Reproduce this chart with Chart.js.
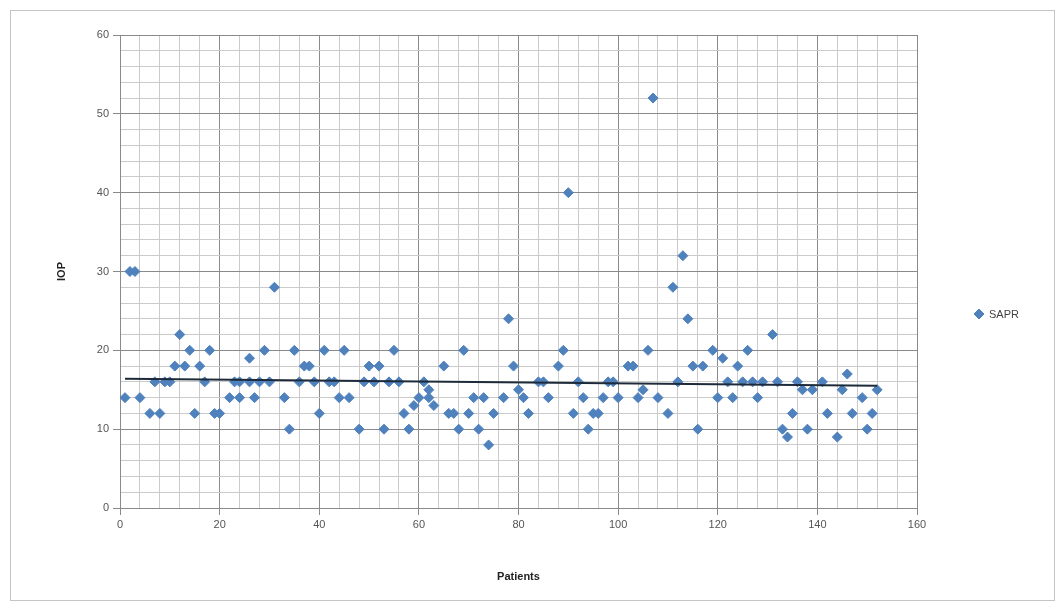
<!DOCTYPE html>
<html>
<head>
<meta charset="utf-8">
<script src="https://cdn.jsdelivr.net/npm/chart.js@4.4.1/dist/chart.umd.min.js"></script>
<style>
  html, body { margin: 0; padding: 0; background: #fff; }
  #box {
    position: absolute; left: 10px; top: 10px;
    width: 1043px; height: 589px;
    border: 1px solid #c4c4c4;
  }
</style>
</head>
<body>
<div id="box"><canvas id="iopChart"></canvas></div>
<script>
// patient number and IOP reading
const patients = [1, 2, 3, 4, 6, 7, 8, 9, 10, 11, 12, 13, 14, 15, 16, 17, 18, 19, 20,
  22, 23, 24, 24, 26, 26, 27, 28, 29, 30, 31, 33, 34, 35, 36, 37, 38, 39, 40,
  41, 42, 43, 44, 45, 46, 48, 49, 50, 51, 52, 53, 54, 55, 56, 57, 58, 59, 60,
  61, 62, 62, 63, 65, 66, 67, 68, 69, 70, 71, 72, 73, 74, 75, 77, 78, 79, 80,
  81, 82, 84, 85, 86, 88, 89, 90, 91, 92, 93, 94, 95, 96, 97, 98, 99, 100,
  102, 103, 104, 105, 106, 107, 108, 110, 111, 112, 113, 114, 115, 116, 117,
  119, 120, 121, 122, 123, 124, 125, 126, 127, 128, 129, 131, 132, 133, 134,
  135, 136, 137, 138, 139, 141, 142, 144, 145, 146, 147, 149, 150, 151, 152];
const iop = [14, 30, 30, 14, 12, 16, 12, 16, 16, 18, 22, 18, 20, 12, 18, 16, 20, 12, 12,
  14, 16, 16, 14, 19, 16, 14, 16, 20, 16, 28, 14, 10, 20, 16, 18, 18, 16, 12,
  20, 16, 16, 14, 20, 14, 10, 16, 18, 16, 18, 10, 16, 20, 16, 12, 10, 13, 14,
  16, 15, 14, 13, 18, 12, 12, 10, 20, 12, 14, 10, 14, 8, 12, 14, 24, 18, 15,
  14, 12, 16, 16, 14, 18, 20, 40, 12, 16, 14, 10, 12, 12, 14, 16, 16, 14,
  18, 18, 14, 15, 20, 52, 14, 12, 28, 16, 32, 24, 18, 10, 18,
  20, 14, 19, 16, 14, 18, 16, 20, 16, 14, 16, 22, 16, 10, 9,
  12, 16, 15, 10, 15, 16, 12, 9, 15, 17, 12, 14, 10, 12, 15];

// linear trend line end points as seen in the picture
const trendX = [1, 152];
const trendY = [16.4, 15.5];

const seriesName = 'SAPR';
const xTitle = 'Patients';
const yTitle = 'IOP';

const blue = '#4f81bd';
const majorGrid = '#8a8a8a';
const minorGrid = '#cbcbcb';
const fontFamily = '"Liberation Sans", Arial, sans-serif';

const points = patients.map((p, i) => ({ x: p, y: iop[i] }));
const trend = trendX.map((x, i) => ({ x: x, y: trendY[i] }));

// legend at the right, placed where Excel put it
const sideLegend = {
  id: 'sideLegend',
  afterDraw(chart) {
    const ctx = chart.ctx;
    ctx.save();
    ctx.fillStyle = blue;
    ctx.strokeStyle = blue;
    ctx.lineWidth = 1;
    Chart.helpers.drawPoint(ctx, { pointStyle: 'rectRot', radius: 5, borderWidth: 1 }, 968, 303);
    ctx.fillStyle = '#444';
    ctx.font = '11px ' + fontFamily;
    ctx.textBaseline = 'middle';
    ctx.fillText(seriesName, 978, 304);
    ctx.restore();
  }
};

new Chart(document.getElementById('iopChart'), {
  type: 'scatter',
  data: {
    datasets: [
      {
        label: seriesName,
        data: points,
        backgroundColor: blue,
        borderColor: blue,
        pointStyle: 'rectRot',
        pointRadius: 5,
        pointHoverRadius: 5,
        order: 2
      },
      {
        label: 'trend',
        data: trend,
        showLine: true,
        borderColor: '#1d2a3a',
        borderWidth: 2,
        pointRadius: 0,
        order: 1
      }
    ]
  },
  options: {
    responsive: true,
    maintainAspectRatio: false,
    animation: false,
    layout: { padding: { left: 40, right: 137, top: 24, bottom: 12 } },
    plugins: {
      legend: { display: false },
      tooltip: { enabled: false }
    },
    scales: {
      x: {
        type: 'linear',
        min: 0,
        max: 160,
        afterFit: (scale) => { scale.height = 80; },
        ticks: {
          stepSize: 4,
          autoSkip: false,
          maxRotation: 0,
          padding: 3,
          color: '#555',
          font: { family: fontFamily, size: 11 },
          callback: (v) => (v % 20 === 0 ? v : '')
        },
        grid: {
          color: (c) => (c.tick && c.tick.value % 20 === 0 ? majorGrid : minorGrid),
          tickColor: (c) => (c.tick && c.tick.value % 20 === 0 ? majorGrid : 'rgba(0,0,0,0)'),
          tickLength: 7
        },
        border: { color: majorGrid },
        title: {
          display: true,
          text: xTitle,
          color: '#222',
          font: { family: fontFamily, size: 11, weight: 'bold' }
        }
      },
      y: {
        min: 0,
        max: 60,
        afterFit: (scale) => { scale.width = 69; },
        ticks: {
          stepSize: 2,
          autoSkip: false,
          padding: 4,
          color: '#555',
          font: { family: fontFamily, size: 11 },
          callback: (v) => (v % 10 === 0 ? v : '')
        },
        grid: {
          color: (c) => (c.tick && c.tick.value % 10 === 0 ? majorGrid : minorGrid),
          tickColor: (c) => (c.tick && c.tick.value % 10 === 0 ? majorGrid : 'rgba(0,0,0,0)'),
          tickLength: 7
        },
        border: { color: majorGrid },
        title: {
          display: true,
          text: yTitle,
          color: '#222',
          font: { family: fontFamily, size: 11, weight: 'bold' }
        }
      }
    }
  },
  plugins: [sideLegend]
});
</script>
</body>
</html>
